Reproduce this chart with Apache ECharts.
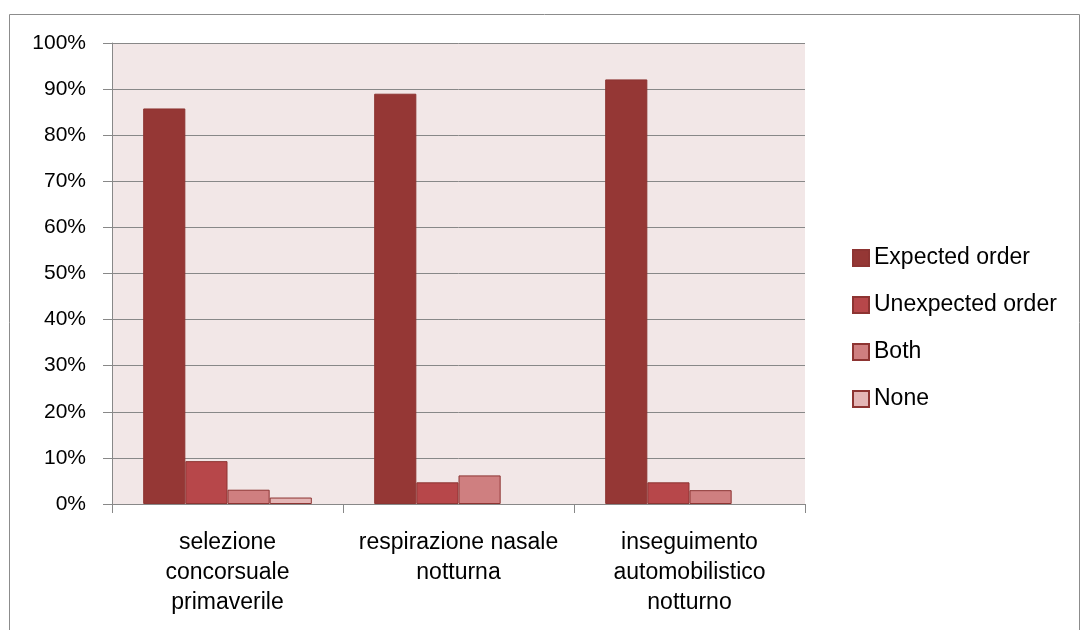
<!DOCTYPE html>
<html><head><meta charset="utf-8">
<script src="https://cdn.jsdelivr.net/npm/echarts@6/dist/echarts.min.js"></script>
<style>html,body{margin:0;padding:0;background:#fff}#c{width:1081px;height:630px}</style>
</head><body><div id="c"></div>
<script>
const categories = ["selezione\nconcorsuale\nprimaverile", "respirazione nasale\nnotturna", "inseguimento\nautomobilistico\nnotturno"];
const seriesNames = ["Expected order", "Unexpected order", "Both", "None"];
const expected = [85.8, 89.0, 92.1];
const unexpected = [9.3, 4.7, 4.7];
const both = [3.1, 6.2, 3.0];
const none = [1.4, 0, 0];
const colors = ["#953735", "#b7474a", "#cf7f80", "#e4b6b6"];
const font = "Liberation Sans";

const chart = echarts.init(document.getElementById('c'));
const data = [expected, unexpected, both, none];
chart.setOption({
  animation: false,
  textStyle: {fontFamily: font},
  graphic: [{type: 'rect', shape: {x: 9.5, y: 14.5, width: 1070, height: 640}, style: {fill: 'none', stroke: '#8c8c8c', lineWidth: 1}, z: -10}],
  grid: {left: 112, top: 43, width: 693, height: 461, show: true, backgroundColor: '#f2e7e7', borderWidth: 0},
  legend: {
    orient: 'vertical', left: 847, top: 241, itemGap: 23, itemWidth: 16, itemHeight: 16,
    icon: 'rect', textStyle: {fontSize: 23, lineHeight: 24, color: '#000', fontFamily: font},
    data: seriesNames
  },
  xAxis: {
    type: 'category', data: categories,
    axisLine: {lineStyle: {color: '#888', width: 1}},
    axisTick: {show: true, length: 9, lineStyle: {color: '#888'}},
    axisLabel: {fontSize: 23, color: '#000', lineHeight: 30, margin: 24, interval: 0, fontFamily: font}
  },
  yAxis: {
    type: 'value', min: 0, max: 100, interval: 10,
    axisLine: {show: true, lineStyle: {color: '#888'}},
    axisTick: {show: true, length: 9, lineStyle: {color: '#888'}},
    splitLine: {lineStyle: {color: '#888', width: 1}},
    axisLabel: {formatter: '{value}%', fontSize: 21, color: '#000', margin: 26, fontFamily: font}
  },
  series: seriesNames.map((n, i) => ({
    name: n, type: 'bar',
    data: data[i].map(v => v === 0 ? {value: v, itemStyle: {borderWidth: 0}} : v),
    barGap: '0%', barCategoryGap: '27%',
    itemStyle: {color: colors[i], borderColor: '#8d3432', borderWidth: 1}
  }))
});
</script></body></html>
